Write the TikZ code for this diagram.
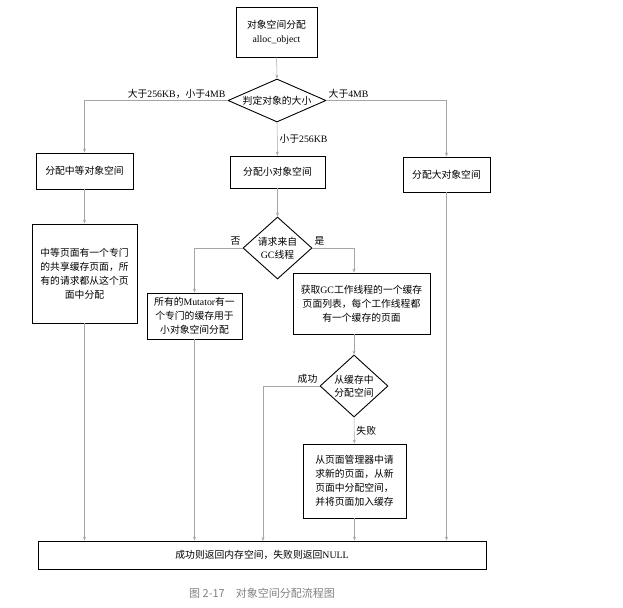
\documentclass[tikz,border=0pt]{standalone}
\usepackage{fontspec}
\setmainfont{Liberation Serif}
\newfontfamily\cjk{Noto Sans CJK SC}
\usetikzlibrary{positioning, arrows.meta, calc, shapes.geometric}
\newcommand\lat[1]{{\rmfamily #1}}
\tikzset{
  stepbox/.style={draw, line width=0.9pt, inner sep=0pt, align=center,
    font=\cjk\fontsize{9.8}{14}\selectfont},
  choice/.style={diamond, draw, line width=0.9pt, inner sep=0pt, align=center,
    font=\cjk\fontsize{9.8}{13}\selectfont},
  flow/.style={-{Stealth[length=4pt, width=3pt]}, gray!70, line width=0.5pt},
  tag/.style={black, font=\cjk\fontsize{9.8}{12}\selectfont, inner sep=2pt}
}

\begin{document}
\begin{tikzpicture}[x=1pt, y=-1pt]
    \useasboundingbox (0,0) rectangle (623,607);
    \node[stepbox, minimum width=81pt, minimum height=50pt] (alloc) at (276.5, 32) {对象空间分配\\\lat{alloc\_object}};
    \node[choice, aspect=2.28, minimum width=98pt, minimum height=43pt] (size) at (277, 100.5) {判定对象的大小};
    \node[stepbox, minimum width=97pt, minimum height=36pt] (mid) at (84.5, 171) {分配中等对象空间};
    \node[stepbox, minimum width=95pt, minimum height=32pt] (small) at (277.5, 172) {分配小对象空间};
    \node[stepbox, minimum width=87pt, minimum height=35pt] (large) at (446.5, 174.5) {分配大对象空间};
    \node[stepbox, minimum width=105pt, minimum height=99pt] (midpage) at (84.5, 273.5)
      {中等页面有一个专门\\的共享缓存页面，所\\有的请求都从这个页\\面中分配};
    \node[choice, aspect=1.11, minimum width=69pt, minimum height=62pt] (gcq) at (277.5, 248) {请求来自\\\lat{GC}线程};
    \node[stepbox, minimum width=95pt, minimum height=46pt] (mutator) at (194.5, 316)
      {所有的\lat{Mutator}有一\\个专门的缓存用于\\小对象空间分配};
    \node[stepbox, minimum width=137pt, minimum height=61pt] (gcpage) at (361.5, 303.5)
      {获取\lat{GC}工作线程的一个缓存\\页面列表，每个工作线程都\\有一个缓存的页面};
    \node[choice, aspect=1.1, minimum width=68pt, minimum height=62pt] (cache) at (354, 386) {从缓存中\\分配空间};
    \node[stepbox, minimum width=103pt, minimum height=74pt] (newpage) at (354.5, 481)
      {从页面管理器中请\\求新的页面，从新\\页面中分配空间，\\并将页面加入缓存};
    \node[stepbox, minimum width=448pt, minimum height=28pt] (result) at (262, 555)
      {成功则返回内存空间，失败则返回\lat{NULL}};
    \node[gray, font=\cjk\fontsize{11}{13}\selectfont] (caption) at (262, 593) {图 2-17\quad 对象空间分配流程图};
    \coordinate (okin) at (263, 541);
    % size decision
    \draw[flow] (alloc) -- (size);
    \draw[flow] (size.west) -| node[tag, pos=0, above left] {大于\lat{256KB}，小于\lat{4MB}} (mid.north);
    \draw[flow] (size.east) -| node[tag, pos=0, above right] {大于\lat{4MB}} (large.north);
    \draw[flow] (size) -- node[tag, right] {小于\lat{256KB}} (small);
    \draw[flow] (mid) -- (midpage);
    % small objects
    \draw[flow] (small) -- (gcq);
    \draw[flow] (gcq.west) -| node[tag, pos=0, above left] {否} (mutator.north);
    \draw[flow] (gcq.east) -| node[tag, pos=0, above right] {是} (cache.north |- gcpage.north);
    \draw[flow] (gcpage.south -| cache.north) -- (cache.north);
    \draw[flow] (cache.west) -| node[tag, pos=0, above left] {成功} (okin);
    \draw[flow] (cache) -- node[tag, right] {失败} (newpage);
    % into result
    \draw[flow] (midpage.south) -- (midpage.south |- result.north);
    \draw[flow] (mutator.south) -- (mutator.south |- result.north);
    \draw[flow] (newpage.south) -- (newpage.south |- result.north);
    \draw[flow] (large.south) -- (large.south |- result.north);
  \end{tikzpicture}
\end{document}
